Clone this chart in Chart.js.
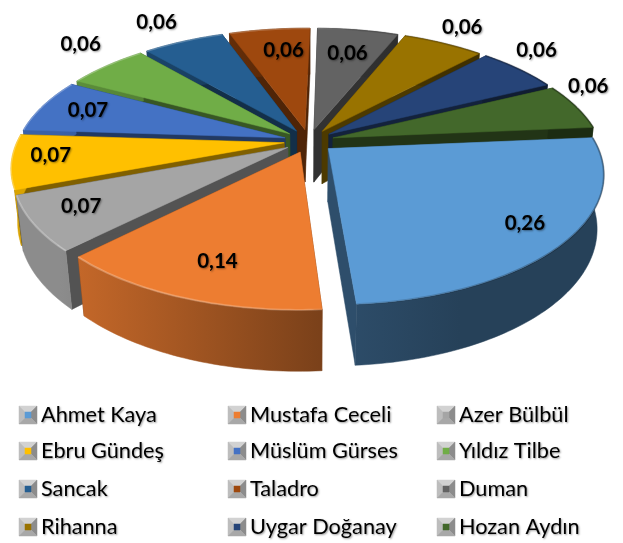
<!DOCTYPE html>
<html>
<head>
<meta charset="utf-8">
<style>html,body{margin:0;padding:0;background:#fff}canvas{display:block}</style>
<script src="https://cdn.jsdelivr.net/npm/chart.js@4"></script>
</head>
<body>
<canvas id="c" width="623" height="543"></canvas>
<script>
const categories = ["Ahmet Kaya","Mustafa Ceceli","Azer Bülbül","Ebru Gündeş","Müslüm Gürses","Yıldız Tilbe","Sancak","Taladro","Duman","Rihanna","Uygar Doğanay","Hozan Aydın"];
const values = [0.26,0.14,0.07,0.07,0.07,0.06,0.06,0.06,0.06,0.06,0.06,0.06];
const colors = ["#5b9bd5","#ed7d31","#a5a5a5","#ffc000","#4472c4","#70ad47","#255e91","#9e480e","#636363","#997300","#264478","#43682b"];
const labelRadii = [0.84,0.78,0.82,0.86,0.81,1.26,1.26,0.76,0.73,1.21,1.20,1.14];
const labelTurns = [-1,-1,1.5,2,0.5,4,-0.5,2.2,0,-0.6,-4.3,-7.8];

const cam = {d:4.8, tilt:27.7*Math.PI/180, depth:0.229};
const s = Math.sin(cam.tilt), c = Math.cos(cam.tilt);
function rgb(hex,k){
  const n = parseInt(hex.slice(1),16);
  return `rgb(${Math.round((n>>16&255)*k)},${Math.round((n>>8&255)*k)},${Math.round((n&255)*k)})`;
}
function project(arc,u,v,h){
  const w = cam.d - v*c - h*s, f = arc.outerRadius*cam.d;
  return [arc.x + f*u/w, arc.y + f*(v*s - h*c)/w];
}
function poly(ctx,pts,fill){
  ctx.beginPath();
  pts.forEach((p,i)=> i ? ctx.lineTo(p[0],p[1]) : ctx.moveTo(p[0],p[1]));
  ctx.closePath();
  ctx.fillStyle = fill; ctx.fill();
  ctx.strokeStyle = fill; ctx.lineWidth = 0.5; ctx.stroke();
}
function sideGradient(ctx,hex){
  const g = ctx.createLinearGradient(60,0,460,0);
  g.addColorStop(0,rgb(hex,0.85));
  g.addColorStop(0.68,rgb(hex,0.5));
  g.addColorStop(1,rgb(hex,0.42));
  return g;
}
function rimGradient(ctx){
  const g = ctx.createLinearGradient(60,0,560,0);
  g.addColorStop(0,"rgba(255,255,255,0.28)");
  g.addColorStop(0.5,"rgba(255,255,255,0.18)");
  g.addColorStop(0.6,"rgba(0,0,0,0.12)");
  g.addColorStop(1,"rgba(0,0,0,0.28)");
  return g;
}
function sliceGeom(arc){
  const ex = (arc.options.offset||0)/arc.outerRadius;
  const mid = (arc.startAngle+arc.endAngle)/2;
  const ox = Math.cos(mid)*ex, oy = Math.sin(mid)*ex;
  const n = Math.max(2,Math.ceil((arc.endAngle-arc.startAngle)/0.02));
  const rim = [];
  for(let i=0;i<=n;i++){
    const a = arc.startAngle+(arc.endAngle-arc.startAngle)*i/n;
    rim.push([ox+Math.cos(a),oy+Math.sin(a)]);
  }
  return {ox,oy,mid,rim};
}
const pie3d = {
  id:"pie3d",
  beforeDatasetsDraw(chart){
    const ctx = chart.ctx, arcs = chart.getDatasetMeta(0).data;
    const order = arcs.map((a,i)=>i).sort((p,q)=>{
      return Math.sin((arcs[p].startAngle+arcs[p].endAngle)/2)-Math.sin((arcs[q].startAngle+arcs[q].endAngle)/2);
    });
    ctx.save();
    order.forEach(i=>{
      const arc = arcs[i], hex = colors[i], g = sliceGeom(arc), D = -cam.depth;
      const P = (q,h)=>project(arc,q[0],q[1],h);
      const tip = [g.ox,g.oy], first = g.rim[0], last = g.rim[g.rim.length-1];
      const wall = rgb(hex,0.5);
      poly(ctx,[P(tip,0),P(first,0),P(first,D),P(tip,D)],wall);
      poly(ctx,[P(tip,0),P(last,0),P(last,D),P(tip,D)],wall);
      const side = g.rim.map(q=>P(q,0)).concat(g.rim.slice().reverse().map(q=>P(q,D)));
      poly(ctx,side,sideGradient(ctx,hex));
      const top = [P(tip,0)].concat(g.rim.map(q=>P(q,0)));
      poly(ctx,top,hex);
      ctx.beginPath();
      g.rim.forEach((q,k)=>{const p=P(q,0); k?ctx.lineTo(p[0],p[1]):ctx.moveTo(p[0],p[1]);});
      ctx.strokeStyle = rimGradient(ctx); ctx.lineWidth = 2; ctx.stroke();
    });
    ctx.restore();
    return false;
  },
  afterDraw(chart){
    const ctx = chart.ctx, arcs = chart.getDatasetMeta(0).data;
    ctx.save();
    ctx.shadowColor = "rgba(0,0,0,0.4)"; ctx.shadowBlur = 2; ctx.shadowOffsetX = 1; ctx.shadowOffsetY = 1;
    ctx.fillStyle = "#000"; ctx.textAlign = "center"; ctx.textBaseline = "middle";
    ctx.font = "bold 20.5px Lato";
    arcs.forEach((arc,i)=>{
      const g = sliceGeom(arc), r = labelRadii[i], a = g.mid+labelTurns[i]*Math.PI/180;
      const p = project(arc,g.ox+Math.cos(a)*r,g.oy+Math.sin(a)*r,0);
      ctx.fillText(values[i].toFixed(2).replace(".",","),p[0],p[1]);
    });
    ctx.restore();
    // legend
    const cols = [19,228,437], rows = [415,451,489,527], size = 18;
    categories.forEach((name,i)=>{
      const x = cols[i%3], y = rows[Math.floor(i/3)], t = y-size/2, b = t+size, r = x+size, m = 6;
      ctx.save();
      poly(ctx,[[x,t],[r,t],[r-m,t+m],[x+m,t+m]],"#d2d2d2");
      poly(ctx,[[x,t],[x+m,t+m],[x+m,b-m],[x,b]],"#bdbdbd");
      poly(ctx,[[r,t],[r,b],[r-m,b-m],[r-m,t+m]],"#8c8c8c");
      poly(ctx,[[x,b],[x+m,b-m],[r-m,b-m],[r,b]],"#a8a8a8");
      poly(ctx,[[x+m,t+m],[r-m,t+m],[r-m,b-m],[x+m,b-m]],colors[i]);
      ctx.shadowColor = "rgba(0,0,0,0.4)"; ctx.shadowBlur = 2; ctx.shadowOffsetX = 1; ctx.shadowOffsetY = 1;
      ctx.fillStyle = "#000"; ctx.textAlign = "left"; ctx.textBaseline = "middle";
      ctx.font = "21.7px Lato";
      ctx.fillText(name,x+22,y);
      ctx.restore();
    });
  }
};
new Chart(document.getElementById("c"),{
  type:"pie",
  data:{labels:categories,datasets:[{data:values,backgroundColor:colors,offset:25,borderWidth:0}]},
  options:{
    responsive:false,animation:false,
    radius:267,rotation:85,
    layout:{padding:{left:0,right:5,top:0,bottom:261}},
    plugins:{legend:{display:false},tooltip:{enabled:false}}
  },
  plugins:[pie3d]
});
</script>
</body>
</html>
